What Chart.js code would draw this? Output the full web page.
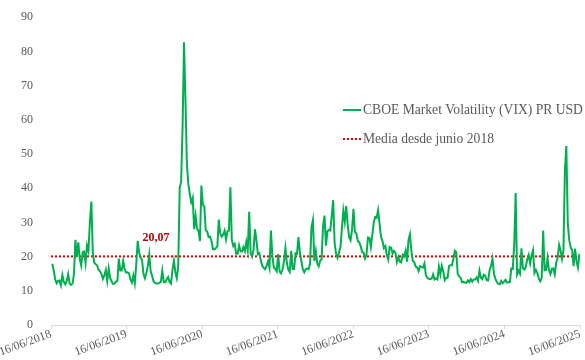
<!DOCTYPE html>
<html>
<head>
<meta charset="utf-8">
<script src="https://cdn.jsdelivr.net/npm/chart.js@4.4.1/dist/chart.umd.min.js"></script>
<style>
  html, body { margin: 0; padding: 0; background: #ffffff; }
  #wrap { position: relative; width: 585px; height: 360px; }
</style>
</head>
<body>
<div id="wrap"><canvas id="vixChart" width="585" height="360"></canvas></div>
<script>
// --- DATA (weekly readings, Fridays) ---
const startDate = '2018-06-16';
const tickLabels = ['16/06/2018', '16/06/2019', '16/06/2020', '16/06/2021', '16/06/2022', '16/06/2023', '16/06/2024', '16/06/2025'];
const yTicks = [0, 10, 20, 30, 40, 50, 60, 70, 80, 90];
const mediaVix = 20.07;

const weekStart = { 2018: '2018-06-15', 2019: '2019-01-04', 2020: '2020-01-03', 2021: '2021-01-01',
                    2022: '2022-01-07', 2023: '2023-01-06', 2024: '2024-01-05', 2025: '2025-01-03' };

const vix2018 = [12.0, 17.9, 16.1, 13.4, 12.2, 12.9, 13.0, 11.6, 14.6, 12.6, 11.9, 12.9, 14.9, 12.1, 11.7,
                 12.1, 14.8, 24.9, 19.9, 24.2, 19.3, 17.4, 21.3, 21.5, 18.1, 23.2, 21.6, 30.1, 36.1];
const vix2019 = [21.4, 18.2, 17.8, 17.4, 16.1, 15.7, 14.9, 13.5, 14.6, 16.1, 12.9, 16.5, 13.7, 12.8, 12.0,
                 12.1, 12.7, 12.9, 19.4, 15.9, 15.9, 18.7, 16.3, 15.3, 15.4, 15.1, 13.3, 12.4, 14.5, 12.2,
                 17.6, 24.6, 21.2, 19.9, 19.0, 15.0, 13.7, 15.3, 17.2, 20.6, 15.6, 14.3, 12.7, 12.3, 12.1,
                 12.1, 12.3, 12.6, 15.9, 12.6, 12.5, 13.4];
const vix2020 = [14.0, 12.6, 12.1, 16.0, 18.8, 15.5, 13.7, 17.1, 40.1, 41.9, 57.8, 82.7, 65.5, 46.8, 41.2,
                 38.2, 35.9, 37.2, 28.0, 31.9, 28.2, 27.5, 24.5, 40.8, 35.1, 34.7, 27.7, 27.3, 25.7, 25.8,
                 24.5, 22.2, 22.1, 22.5, 23.0, 30.8, 26.9, 25.8, 26.4, 27.6, 25.0, 27.4, 27.6, 40.3, 24.9,
                 23.1, 23.7, 20.8, 20.8, 23.3, 21.6, 21.5];
const vix2021 = [22.8, 21.6, 24.3, 21.9, 33.1, 20.9, 20.0, 22.1, 28.0, 24.7, 20.7, 21.0, 18.9, 17.3, 16.7,
                 16.3, 17.3, 18.6, 16.7, 27.6, 20.2, 16.8, 16.4, 15.7, 20.7, 15.6, 15.1, 16.2, 18.5, 22.5,
                 18.2, 16.2, 15.5, 21.7, 16.4, 16.4, 21.0, 20.8, 25.7, 21.2, 18.8, 16.3, 15.4, 16.3, 16.5,
                 16.3, 17.9, 28.6, 30.7, 18.7, 21.6, 18.0, 17.2];
const vix2022 = [18.8, 19.2, 28.9, 32.0, 23.2, 27.4, 27.8, 27.6, 31.9, 36.5, 23.9, 20.8, 19.6, 21.2, 22.7,
                 28.2, 33.4, 30.2, 34.8, 29.4, 25.7, 24.8, 27.8, 34.0, 27.2, 26.7, 24.6, 24.2, 23.0, 21.3,
                 21.2, 19.5, 20.6, 25.6, 25.5, 22.8, 26.3, 29.9, 31.6, 31.4, 33.6, 29.7, 25.8, 24.6, 22.5,
                 23.1, 20.5, 19.1, 22.8, 22.6, 20.9, 21.7];
const vix2023 = [21.1, 18.4, 19.9, 18.5, 18.3, 20.5, 20.0, 21.7, 18.5, 24.8, 26.5, 21.7, 18.7, 18.4, 17.1,
                 16.8, 15.8, 17.2, 17.0, 16.8, 18.0, 14.6, 13.8, 13.5, 13.4, 13.6, 14.8, 13.3, 13.6, 13.3,
                 17.1, 14.8, 17.3, 15.7, 13.1, 13.8, 13.8, 17.2, 17.5, 17.5, 19.3, 21.7, 21.3, 14.9, 14.2,
                 13.8, 12.5, 12.6, 12.4, 12.3, 13.0, 12.5];
const vix2024 = [13.4, 12.7, 13.3, 13.3, 13.9, 12.9, 15.9, 13.8, 13.4, 14.7, 14.4, 13.1, 13.0, 16.0, 17.3,
                 19.4, 15.0, 13.5, 12.6, 12.0, 11.9, 12.9, 12.2, 12.7, 13.2, 12.4, 12.5, 12.5, 16.5, 16.4,
                 23.4, 38.6, 14.8, 15.9, 15.0, 22.4, 16.6, 16.2, 17.0, 19.2, 20.5, 18.0, 20.3, 21.9, 15.2,
                 16.1, 15.2, 13.5, 12.8, 13.8, 27.6, 16.0];
const vix2025 = [16.1, 19.5, 16.0, 14.9, 16.4, 16.5, 14.8, 18.2, 19.6, 23.4, 21.8, 19.3, 21.7, 45.3, 52.3,
                 29.7, 24.8, 22.7, 21.9, 17.2, 22.3, 18.6, 16.8, 20.8];

// --- HELPERS ---
const DAY = 86400000;
const dayOf = (iso) => (Date.parse(iso) - Date.parse(startDate)) / DAY;
const tickDays = tickLabels.map(l => { const p = l.split('/'); return dayOf(p[2] + '-' + p[1] + '-' + p[0]); });

function weeklyPoints(year, values) {
    const first = dayOf(weekStart[year]);
    return values.map((v, i) => ({ x: first + i * 7, y: v }));
}

const vixPoints = [].concat(
    weeklyPoints(2018, vix2018), weeklyPoints(2019, vix2019), weeklyPoints(2020, vix2020),
    weeklyPoints(2021, vix2021), weeklyPoints(2022, vix2022), weeklyPoints(2023, vix2023),
    weeklyPoints(2024, vix2024), weeklyPoints(2025, vix2025)
).filter(p => p.x >= 0);

const xMax = tickDays[tickDays.length - 1];

// --- COLORS / FONTS ---
const colors = { green: '#00B050', red: '#E00000', darkRed: '#C00000', text: '#595959', axis: '#D9D9D9' };
const serif = "'Liberation Serif', 'DejaVu Serif', serif";

// legend + "20,07" label drawn on top
const overlayPlugin = {
    id: 'overlay',
    afterDraw(chart) {
        const ctx = chart.ctx;
        const xs = chart.scales.x, ys = chart.scales.y;
        ctx.save();
        // average label
        ctx.font = 'bold 12px ' + serif;
        ctx.fillStyle = colors.darkRed;
        ctx.textAlign = 'center';
        ctx.textBaseline = 'middle';
        ctx.fillText(mediaVix.toFixed(2).replace('.', ','), xs.getPixelForValue(508), ys.getPixelForValue(mediaVix + 5.3));

        // legend
        ctx.font = '13.6px ' + serif;
        ctx.fillStyle = colors.text;
        ctx.textAlign = 'left';
        const lx = 343, ly1 = 110, ly2 = 139;
        ctx.strokeStyle = colors.green;
        ctx.lineWidth = 2;
        ctx.beginPath(); ctx.moveTo(lx, ly1); ctx.lineTo(lx + 18, ly1); ctx.stroke();
        ctx.fillText(chart.data.datasets[0].label, lx + 20, ly1);
        ctx.strokeStyle = colors.red;
        ctx.setLineDash([2, 2]);
        ctx.beginPath(); ctx.moveTo(lx, ly2); ctx.lineTo(lx + 18, ly2); ctx.stroke();
        ctx.setLineDash([]);
        ctx.fillText(chart.data.datasets[1].label, lx + 20, ly2);
        ctx.restore();
    }
};

const ctxVix = document.getElementById('vixChart').getContext('2d');
const vixChart = new Chart(ctxVix, {
    type: 'line',
    data: {
        datasets: [{
            label: 'CBOE Market Volatility (VIX) PR USD',
            data: vixPoints,
            borderColor: colors.green,
            borderWidth: 2,
            pointRadius: 0,
            tension: 0
        }, {
            label: 'Media desde junio 2018',
            data: [{ x: 0, y: mediaVix }, { x: xMax, y: mediaVix }],
            borderColor: colors.red,
            borderWidth: 2,
            borderDash: [2, 2],
            pointRadius: 0
        }]
    },
    options: {
        responsive: false,
        animation: false,
        layout: { padding: { top: 14, right: 5, left: 0, bottom: 0 } },
        plugins: { legend: { display: false }, tooltip: { enabled: false } },
        scales: {
            x: {
                type: 'linear',
                min: 0,
                max: xMax,
                afterBuildTicks: (scale) => { scale.ticks = tickDays.map(v => ({ value: v })); },
                afterFit: (scale) => { scale.height = 35; },
                grid: { drawOnChartArea: false, color: colors.axis, tickLength: 4 },
                border: { color: colors.axis },
                ticks: {
                    autoSkip: false,
                    minRotation: 20,
                    maxRotation: 20,
                    padding: -2,
                    color: colors.text,
                    font: { family: serif, size: 12 },
                    callback: (v) => tickLabels[tickDays.indexOf(v)]
                }
            },
            y: {
                min: 0,
                max: 90,
                afterBuildTicks: (scale) => { scale.ticks = yTicks.map(v => ({ value: v })); },
                afterFit: (scale) => { scale.width = 51; },
                grid: { display: false },
                border: { display: false },
                ticks: { padding: 10, color: colors.text, font: { family: serif, size: 12 } }
            }
        }
    },
    plugins: [overlayPlugin]
});
</script>
</body>
</html>
